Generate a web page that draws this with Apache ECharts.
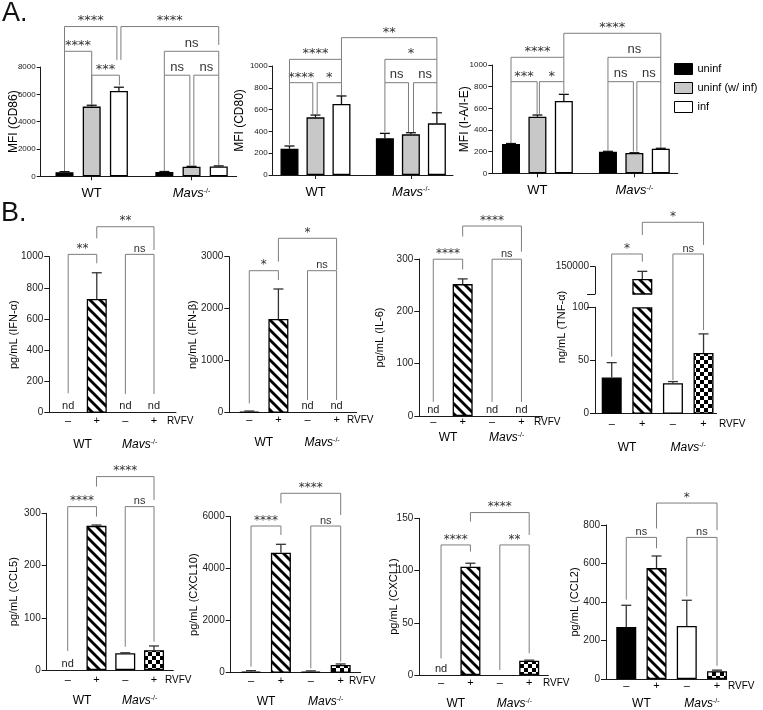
<!DOCTYPE html>
<html>
<head>
<meta charset="utf-8">
<script src="https://cdn.jsdelivr.net/npm/echarts@6.0.0/dist/echarts.min.js"></script>
<style>
html,body{margin:0;padding:0;background:#fff;}
#chart{width:763px;height:710px;}
</style>
</head>
<body>
<div id="chart"></div>
<script>
// ================= DATA =================
const groups = ['WT', 'Mavs'];
const groupSup = '-/-';
const conditionsA = ['uninf', 'uninf (w/ inf)', 'inf'];
const rvfvTicks = ['\u2013', '+', '\u2013', '+'];
const rvfvName = 'RVFV';

// Panel A — order: WT uninf, WT uninf(w/ inf), WT inf, Mavs uninf, Mavs uninf(w/ inf), Mavs inf
const cd86Values = [300, 5100, 6250, 320, 700, 720];
const cd86Errors = [40, 100, 270, 30, 30, 40];
const cd80Values = [241, 529, 651, 337, 373, 474];
const cd80Errors = [25, 21, 74, 45, 15, 97];
const iaieValues = [270, 522, 667, 200, 187, 227];
const iaieErrors = [5, 16, 62, 3, 3, 4];

// significance brackets: [bar A, bar B, bracket level, end of leg A, end of leg B, label]
const cd86Sig = [
  [0, 1, 9150, 350, 5250, '****'],
  [1, 2, 7400, 5250, 6650, '***'],
  [0, 2, 10960, 9150, 8520, '****'],
  [2, 5, 10960, 8520, 9620, '****'],
  [3, 5, 9150, 7400, 7400, 'ns'],
  [3, 4, 7400, 400, 800, 'ns'],
  [4, 5, 7400, 800, 820, 'ns']
];
const cd80Sig = [
  [0, 1, 847, 280, 560, '****'],
  [1, 2, 847, 560, 730, '*'],
  [0, 2, 1061, 847, 847, '****'],
  [2, 5, 1260, 1061, 1061, '**'],
  [3, 5, 1061, 847, 847, '*'],
  [3, 4, 847, 397, 395, 'ns'],
  [4, 5, 847, 395, 580, 'ns']
];
const iaieSig = [
  [0, 1, 846, 280, 545, '***'],
  [1, 2, 846, 545, 740, '*'],
  [0, 2, 1071, 846, 846, '****'],
  [2, 5, 1293, 1071, 1071, '****'],
  [3, 5, 1071, 846, 846, 'ns'],
  [3, 4, 846, 210, 200, 'ns'],
  [4, 5, 846, 200, 235, 'ns']
];

// Panel B — order: WT -, WT +, Mavs -, Mavs +
const ifnaValues = [0, 729, 0, 0];
const ifnaErrors = [0, 168, 0, 0];
const ifnaNotes = ['nd', '', 'nd', 'nd'];
const ifnaSig = [[0, 1, 1015, 124, 958, '**'], [1, 3, 1192, 1118, 1043, '**'], [2, 3, 1015, 120, 120, 'ns']];

const ifnbValues = [20, 1802, 0, 0];
const ifnbErrors = [12, 577, 0, 0];
const ifnbNotes = ['', '', 'nd', 'nd'];
const ifnbSig = [[0, 1, 2731, 181, 2552, '*'], [1, 3, 3354, 2904, 2744, '*'], [2, 3, 2731, 244, 244, 'ns']];

const il6Values = [0, 252, 0, 0];
const il6Errors = [0, 10, 0, 0];
const il6Notes = ['nd', '', 'nd', 'nd'];
const il6Sig = [[0, 1, 299.6, 27, 280, '****'], [1, 3, 363, 343, 314, '****'], [2, 3, 299.6, 27, 27, 'ns']];

const tnfValues = [34, 127500, 28.6, 57];
const tnfErrors = [14, 14000, 1.6, 18];
const tnfNotes = ['', '', '', ''];
const tnfBreak = [100, 100000];        // lower segment max, upper segment min
const tnfUpperTicks = [150000];
const tnfSig = [[0, 1, 150.1, 53.6, 142.9, '*'], [1, 3, 179.9, 167.9, 158.6, '*'], [2, 3, 150.1, 31.7, 78.7, 'ns']];

const ccl5Values = [0, 276, 32, 38];
const ccl5Errors = [0, 1.5, 1, 8];
const ccl5Notes = ['nd', '', '', ''];
const ccl5Sig = [[0, 1, 312.8, 36.4, 293.7, '****'], [1, 3, 370.3, 351.1, 325.7, '****'], [2, 3, 312.8, 44.6, 54.2, 'ns']];

const cxcl10Values = [50, 4615, 50, 296];
const cxcl10Errors = [30, 323, 20, 40];
const cxcl10Notes = ['', '', '', ''];
const cxcl10Sig = [[0, 1, 5642, 231, 5296, '****'], [1, 3, 6900, 6515, 6065, '****'], [2, 3, 5642, 169, 423, 'ns']];

const cxcl1Values = [0, 103.7, 0, 13.7];
const cxcl1Errors = [0, 3.3, 0, 0.5];
const cxcl1Notes = ['nd', '', '', ''];
const cxcl1Sig = [[0, 1, 124.5, 16, 118.1, '****'], [1, 3, 155.5, 146.8, 134.1, '****'], [2, 3, 124.5, 4.8, 20.8, '**']];

const ccl2Values = [270, 576, 275, 40];
const ccl2Errors = [113, 63, 134, 6];
const ccl2Notes = ['', '', '', ''];
const ccl2Sig = [[0, 1, 735.6, 412, 679, 'ns'], [1, 3, 914, 782, 773, '*'], [2, 3, 735.6, 429, 68.6, 'ns']];

// ================= LAYOUT / STYLE =================
const FONT = '"Liberation Sans", Arial, Helvetica, sans-serif';
const STAR_FONT = '"DejaVu Sans", sans-serif';
const AXIS_COLOR = '#1a1a1a';
const BRACKET_COLOR = '#7d7d7d';
const LABEL_COLOR = '#333';

const A_POS = [0, 1, 2, 3.67, 4.67, 5.67];
const A_GROUP_POS = [1, 4.67];
const B_POS = [0, 1, 2, 3];
const B_GROUP_POS = [0.5, 2.5];

const A_NUDGE = [
  [[0, 0], [0, 0.5], [0, -2], [2, 0], [0, 0], [0, -1.7], [2.3, 0]],
  [[0, -2.7], [1.7, 0], [0, 0], [0, 0], [0, 0], [0, -2.4], [2.6, 0]],
  [[0, -0.3], [2, 0], [0, 0], [0, 0], [0, 0], [0, -1], [2.5, 0]]
];

const LA = [
  {left: 40.7, top: 67, width: 196, height: 109.3, xmin: -0.875, xmax: 6.33, ymax: 8000, yint: 2000, title: 'MFI (CD86)', nameGap: 21},
  {left: 272.7, top: 66, width: 180.3, height: 109, xmin: -0.646, xmax: 6.29, ymax: 1000, yint: 200, title: 'MFI (CD80)', nameGap: 27},
  {left: 492.3, top: 65, width: 185.4, height: 108.3, xmin: -0.708, xmax: 6.31, ymax: 1000, yint: 200, title: 'MFI (I-A/I-E)', nameGap: 22}
];
const LB = {
  ifna: {left: 49.3, top: 256.7, width: 126.7, height: 156, xmin: -0.66, xmax: 3.77, ymax: 1000, yint: 200, title: 'pg/mL (IFN-\u03b1)', nameGap: 30, pm: 3, gm: 26, rvGap: -9},
  ifnb: {left: 229.3, top: 256.7, width: 127.4, height: 156, xmin: -0.687, xmax: 3.69, ymax: 3000, yint: 1000, title: 'ng/mL (IFN-\u03b2)', nameGap: 31, pm: 2, gm: 24, rvGap: -9.7},
  il6: {left: 419.3, top: 259, width: 123, height: 157, xmin: -0.476, xmax: 3.71, ymax: 300, yint: 100, title: 'pg/mL (IL-6)', nameGap: 34, pm: 0, gm: 16, rvGap: -8.3},
  tnf: {left: 595, top: 307.3, width: 121.7, height: 106.4, xmin: -0.546, xmax: 3.43, ymax: 100, yint: 50, upperTop: 266.7, upperHeight: 27.3, titleSpan: 120.6, title: 'ng/mL (TNF-\u03b1)', nameGap: 28, pm: 5, gm: 28, rvGap: 2.3},
  ccl5: {left: 46.7, top: 513.3, width: 126.6, height: 156.7, xmin: -0.73, xmax: 3.67, ymax: 300, yint: 100, title: 'pg/mL (CCL5)', nameGap: 27, pm: 4, gm: 25, rvGap: -8.3},
  cxcl10: {left: 230.7, top: 516.7, width: 130, height: 156, xmin: -0.68, xmax: 3.67, ymax: 6000, yint: 2000, title: 'pg/mL (CXCL10)', nameGap: 31, pm: 3, gm: 23, rvGap: -11.7},
  cxcl1: {left: 419.3, top: 518.3, width: 129, height: 156.7, xmin: -0.74, xmax: 3.65, ymax: 150, yint: 50, title: 'pg/mL (CXCL1)', nameGap: 20, pm: 2, gm: 23, rvGap: -5.3},
  ccl2: {left: 606, top: 525, width: 120.7, height: 155, xmin: -0.67, xmax: 3.32, ymax: 800, yint: 200, title: 'pg/mL (CCL2)', nameGap: 26, pm: 1, gm: 19, rvGap: 1.3}
};

function makeHatch() {
  const s = 10, c = document.createElement('canvas');
  c.width = s; c.height = s;
  const g = c.getContext('2d');
  g.fillStyle = '#fff'; g.fillRect(0, 0, s, s);
  g.strokeStyle = '#000'; g.lineWidth = 2.8;
  for (let k = -1; k <= 1; k++) {
    g.beginPath(); g.moveTo(-2, -2 + k * s); g.lineTo(s + 2, s + 2 + k * s); g.stroke();
  }
  return c;
}
function makeChecker() {
  const s = 8, h = 4, c = document.createElement('canvas');
  c.width = s; c.height = s;
  const g = c.getContext('2d');
  g.fillStyle = '#fff'; g.fillRect(0, 0, s, s);
  g.fillStyle = '#000'; g.fillRect(0, 0, h, h); g.fillRect(h, h, h, h);
  return c;
}
const HATCH = {image: makeHatch(), repeat: 'repeat'};
const CHECK = {image: makeChecker(), repeat: 'repeat'};
const FILL_A = ['#000', '#c8c8c8', '#fff'];
const FILL_B = ['#000', HATCH, '#fff', CHECK];
const plainNum = v => String(v);

const option = {
  animation: false,
  backgroundColor: '#fff',
  textStyle: {fontFamily: FONT},
  title: [
    {text: 'A.', left: 2, top: 0, padding: 0, textStyle: {fontSize: 27, fontWeight: 'normal', color: '#111', fontFamily: FONT}},
    {text: 'B.', left: 1, top: 200, padding: 0, textStyle: {fontSize: 27, fontWeight: 'normal', color: '#111', fontFamily: FONT}}
  ],
  legend: {
    show: true, orient: 'vertical', left: 674, top: 63, padding: 0,
    itemWidth: 18, itemHeight: 11, itemGap: 7, icon: 'rect', selectedMode: false,
    textStyle: {fontSize: 11, color: '#000', fontFamily: FONT},
    itemStyle: {borderColor: '#000', borderWidth: 1},
    data: conditionsA
  },
  grid: [], xAxis: [], yAxis: [], series: []
};

function addGrid(L) {
  option.grid.push({left: L.left, top: L.top, width: L.width, height: L.height, containLabel: false, show: false});
  return option.grid.length - 1;
}
function mavsRich(size) {
  return {
    it: {fontStyle: 'italic', fontSize: size, color: '#000', fontFamily: FONT},
    sup: {fontSize: Math.round(size * 0.55), verticalAlign: 'top', color: '#000', fontFamily: FONT}
  };
}
function groupFormatter(centers) {
  return function (v) {
    return Math.abs(v - centers[0]) < 0.01 ? groups[0] : '{it|' + groups[1] + '}{sup|' + groupSup + '}';
  };
}
function yAxisCfg(gi, L, o) {
  return {
    type: 'value', gridIndex: gi, min: 0, max: L.ymax, interval: L.yint, position: 'left',
    name: L.title, nameLocation: 'middle', nameGap: L.nameGap, nameMoveOverlap: false,
    nameTextStyle: {fontSize: o.nameSize, color: '#000', fontFamily: FONT},
    axisLine: {show: true, onZero: false, lineStyle: {color: AXIS_COLOR, width: 1}},
    axisTick: {show: true, length: o.tickLen, lineStyle: {color: AXIS_COLOR, width: 1}},
    axisLabel: {fontSize: o.labelSize, margin: o.labelMargin, color: '#222', fontFamily: FONT, formatter: plainNum},
    splitLine: {show: false}
  };
}
function errorSeries(xi, yi, xs, vals, errs, notes, opt) {
  return {
    type: 'custom', xAxisIndex: xi, yAxisIndex: yi, silent: true, z: 4, clip: false,
    data: xs.map((x, i) => [x, vals[i], errs[i]]),
    renderItem: function (params, api) {
      const i = params.dataIndex;
      const x = api.value(0), v = api.value(1), e = api.value(2);
      const ch = [];
      if (e > 0 && opt.filter(v)) {
        const a = api.coord([x, v]), b = api.coord([x, v + e]);
        ch.push({type: 'line', shape: {x1: a[0], y1: a[1], x2: b[0], y2: b[1]}, style: {stroke: opt.color, lineWidth: opt.lw, fill: 'none'}});
        ch.push({type: 'line', shape: {x1: b[0] - opt.cap, y1: b[1], x2: b[0] + opt.cap, y2: b[1]}, style: {stroke: opt.color, lineWidth: opt.lw, fill: 'none'}});
      }
      if (notes && notes[i]) {
        const p = api.coord([x, 0]);
        ch.push({type: 'text', x: p[0], y: p[1] - 1, style: {text: notes[i], align: 'center', verticalAlign: 'bottom', fontSize: 11, fontFamily: FONT, fill: '#222'}});
      }
      return {type: 'group', children: ch};
    }
  };
}
function bracketSeries(xi, yi, xs, sig, nudges, o) {
  return {
    type: 'custom', xAxisIndex: xi, yAxisIndex: yi, silent: true, z: 3, clip: false,
    data: sig.map(s => [xs[s[0]], xs[s[1]], s[2], s[3], s[4]]),
    renderItem: function (params, api) {
      const s = sig[params.dataIndex];
      const nd = nudges ? nudges[params.dataIndex] : [0, 0];
      const a0 = api.coord([api.value(0), api.value(3)]);
      const t = api.coord([api.value(0), api.value(2)]);
      const b0 = api.coord([api.value(1), api.value(4)]);
      const x1 = a0[0] + nd[0], x2 = b0[0] + nd[1], y = t[1];
      const star = s[5].indexOf('*') >= 0;
      return {type: 'group', children: [
        {type: 'polyline', shape: {points: [[x1, a0[1]], [x1, y], [x2, y], [x2, b0[1]]]}, style: {stroke: BRACKET_COLOR, lineWidth: 1, fill: 'none'}},
        {type: 'text', x: (x1 + x2) / 2, y: y + (star ? o.starDy : o.nsDy),
          style: {text: s[5], align: 'center', verticalAlign: 'bottom', fontSize: star ? o.starSize : o.nsSize, fontFamily: star ? STAR_FONT : FONT, fill: LABEL_COLOR}}
      ]};
    }
  };
}

// ---------- Panel A ----------
function panelA(k, vals, errs, sig) {
  const L = LA[k];
  const gi = addGrid(L);
  const xi = option.xAxis.length;
  option.xAxis.push({
    type: 'value', gridIndex: gi, min: L.xmin, max: L.xmax, position: 'bottom',
    axisLine: {show: true, onZero: false, lineStyle: {color: AXIS_COLOR, width: 1}},
    axisTick: {show: true, customValues: A_GROUP_POS, length: 4, lineStyle: {color: AXIS_COLOR}},
    axisLabel: {show: true, customValues: A_GROUP_POS, margin: 11, fontSize: 13, color: '#000', fontFamily: FONT,
      formatter: groupFormatter(A_GROUP_POS), rich: mavsRich(13)},
    splitLine: {show: false}
  });
  const yi = option.yAxis.length;
  option.yAxis.push(yAxisCfg(gi, L, {nameSize: 12, tickLen: 4, labelSize: 8, labelMargin: 5}));
  conditionsA.forEach((c, ci) => {
    option.series.push({
      type: 'bar', name: c, xAxisIndex: xi, yAxisIndex: yi, barWidth: 18, barGap: '-100%', silent: true,
      data: groups.map((g, gIdx) => [A_POS[gIdx * 3 + ci], vals[gIdx * 3 + ci]]),
      itemStyle: {color: FILL_A[ci], borderColor: '#000', borderWidth: 1.3}
    });
  });
  option.series.push(errorSeries(xi, yi, A_POS, vals, errs, null, {filter: () => true, color: '#111', lw: 1.3, cap: 5}));
  option.series.push(bracketSeries(xi, yi, A_POS, sig, A_NUDGE[k], {starDy: 1, nsDy: -1.5, starSize: 13, nsSize: 13}));
}

// ---------- Panel B ----------
function bXAxes(gi, L) {
  const xi = option.xAxis.length;
  option.xAxis.push({
    type: 'value', gridIndex: gi, min: L.xmin, max: L.xmax, position: 'bottom',
    name: rvfvName, nameLocation: 'end', nameGap: L.rvGap, nameMoveOverlap: false,
    nameTextStyle: {fontSize: 10, color: '#000', fontFamily: FONT, align: 'left', verticalAlign: 'top', padding: [L.pm + 1, 0, 0, 0]},
    axisLine: {show: true, onZero: false, lineStyle: {color: AXIS_COLOR, width: 1}},
    axisTick: {show: false},
    axisLabel: {show: true, customValues: B_POS, margin: L.pm, fontSize: 11, color: '#000', fontFamily: FONT,
      formatter: v => rvfvTicks[Math.round(v)]},
    splitLine: {show: false}
  });
  option.xAxis.push({
    type: 'value', gridIndex: gi, min: L.xmin, max: L.xmax, position: 'bottom',
    axisLine: {show: false, onZero: false}, axisTick: {show: false}, splitLine: {show: false},
    axisLabel: {show: true, customValues: B_GROUP_POS, margin: L.gm, fontSize: 12, color: '#000', fontFamily: FONT,
      formatter: groupFormatter(B_GROUP_POS), rich: mavsRich(12)}
  });
  return xi;
}
function barDataB(vals, fn) {
  return vals.map((v, i) => {
    const y = fn(v);
    return (y === null || !(v > 0)) ? {value: [B_POS[i], '-']} : {value: [B_POS[i], y], itemStyle: {color: FILL_B[i]}};
  });
}
const B_BRACKET = {starDy: 0.5, nsDy: 0, starSize: 12, nsSize: 11};
function panelB(L, vals, errs, notes, sig) {
  const gi = addGrid(L);
  const xi = bXAxes(gi, L);
  const yi = option.yAxis.length;
  option.yAxis.push(yAxisCfg(gi, L, {nameSize: 11, tickLen: 5, labelSize: 10, labelMargin: 6}));
  option.series.push({
    type: 'bar', xAxisIndex: xi, yAxisIndex: yi, barWidth: 20, silent: true,
    data: barDataB(vals, v => v),
    itemStyle: {borderColor: '#000', borderWidth: 1.3}
  });
  option.series.push(errorSeries(xi, yi, B_POS, vals, errs, notes, {filter: () => true, color: '#333', lw: 1.3, cap: 5}));
  option.series.push(bracketSeries(xi, yi, B_POS, sig, null, B_BRACKET));
}
function panelTNF(L, vals, errs, notes, sig) {
  // frame carrying the axis title over the whole broken axis
  const gf = addGrid({left: L.left, top: L.upperTop, width: L.width, height: L.titleSpan});
  option.xAxis.push({type: 'value', gridIndex: gf, show: false, min: 0, max: 1});
  option.yAxis.push({type: 'value', gridIndex: gf, min: 0, max: 1, position: 'left', name: L.title, nameLocation: 'middle', nameGap: L.nameGap, nameMoveOverlap: false,
    nameTextStyle: {fontSize: 11, color: '#000', fontFamily: FONT},
    axisLine: {show: false, onZero: false}, axisTick: {show: false}, axisLabel: {show: false}, splitLine: {show: false}});
  // lower segment
  const gl = addGrid(L);
  const xi = bXAxes(gl, L);
  const yi = option.yAxis.length;
  const yl = yAxisCfg(gl, L, {nameSize: 11, tickLen: 5, labelSize: 10, labelMargin: 6});
  yl.name = '';
  option.yAxis.push(yl);
  option.yAxis.push({type: 'value', gridIndex: gl, min: 0, max: L.ymax, position: 'left', axisLine: {show: false, onZero: false},
    axisLabel: {show: false}, splitLine: {show: false},
    axisTick: {show: true, customValues: [tnfBreak[0]], length: 8, lineStyle: {color: AXIS_COLOR}}});
  option.series.push({
    type: 'bar', xAxisIndex: xi, yAxisIndex: yi, barWidth: 20, silent: true,
    data: barDataB(vals, v => Math.min(v, tnfBreak[0])),
    itemStyle: {borderColor: '#000', borderWidth: 1.3}
  });
  option.series.push(errorSeries(xi, yi, B_POS, vals, errs, notes, {filter: v => v <= tnfBreak[0], color: '#333', lw: 1.3, cap: 5}));
  option.series.push(bracketSeries(xi, yi, B_POS, sig, null, B_BRACKET));
  // upper segment
  const gu = addGrid({left: L.left, top: L.upperTop, width: L.width, height: L.upperHeight});
  const xu = option.xAxis.length;
  option.xAxis.push({type: 'value', gridIndex: gu, show: false, min: L.xmin, max: L.xmax});
  const yu = option.yAxis.length;
  const upMax = tnfUpperTicks[tnfUpperTicks.length - 1];
  option.yAxis.push({type: 'value', gridIndex: gu, min: tnfBreak[1], max: upMax, interval: upMax - tnfBreak[1], position: 'left',
    axisLine: {show: true, onZero: false, lineStyle: {color: AXIS_COLOR, width: 1}},
    axisTick: {show: true, customValues: tnfUpperTicks, length: 5, lineStyle: {color: AXIS_COLOR}},
    axisLabel: {show: true, customValues: tnfUpperTicks, fontSize: 10, margin: 6, color: '#222', fontFamily: FONT, formatter: plainNum},
    splitLine: {show: false}});
  option.yAxis.push({type: 'value', gridIndex: gu, min: tnfBreak[1], max: upMax, position: 'left', axisLine: {show: false, onZero: false},
    axisLabel: {show: false}, splitLine: {show: false},
    axisTick: {show: true, customValues: [tnfBreak[1]], length: 8, lineStyle: {color: AXIS_COLOR}}});
  option.series.push({
    type: 'bar', xAxisIndex: xu, yAxisIndex: yu, barWidth: 20, silent: true,
    data: barDataB(vals, v => v > tnfBreak[1] ? v : null),
    itemStyle: {borderColor: '#000', borderWidth: 1.3}
  });
  option.series.push(errorSeries(xu, yu, B_POS, vals, errs, null, {filter: v => v > tnfBreak[1], color: '#333', lw: 1.3, cap: 5}));
}

panelA(0, cd86Values, cd86Errors, cd86Sig);
panelA(1, cd80Values, cd80Errors, cd80Sig);
panelA(2, iaieValues, iaieErrors, iaieSig);

panelB(LB.ifna, ifnaValues, ifnaErrors, ifnaNotes, ifnaSig);
panelB(LB.ifnb, ifnbValues, ifnbErrors, ifnbNotes, ifnbSig);
panelB(LB.il6, il6Values, il6Errors, il6Notes, il6Sig);
panelTNF(LB.tnf, tnfValues, tnfErrors, tnfNotes, tnfSig);
panelB(LB.ccl5, ccl5Values, ccl5Errors, ccl5Notes, ccl5Sig);
panelB(LB.cxcl10, cxcl10Values, cxcl10Errors, cxcl10Notes, cxcl10Sig);
panelB(LB.cxcl1, cxcl1Values, cxcl1Errors, cxcl1Notes, cxcl1Sig);
panelB(LB.ccl2, ccl2Values, ccl2Errors, ccl2Notes, ccl2Sig);

const chart = echarts.init(document.getElementById('chart'), null, {renderer: 'canvas'});
chart.setOption(option);
</script>
</body>
</html>
